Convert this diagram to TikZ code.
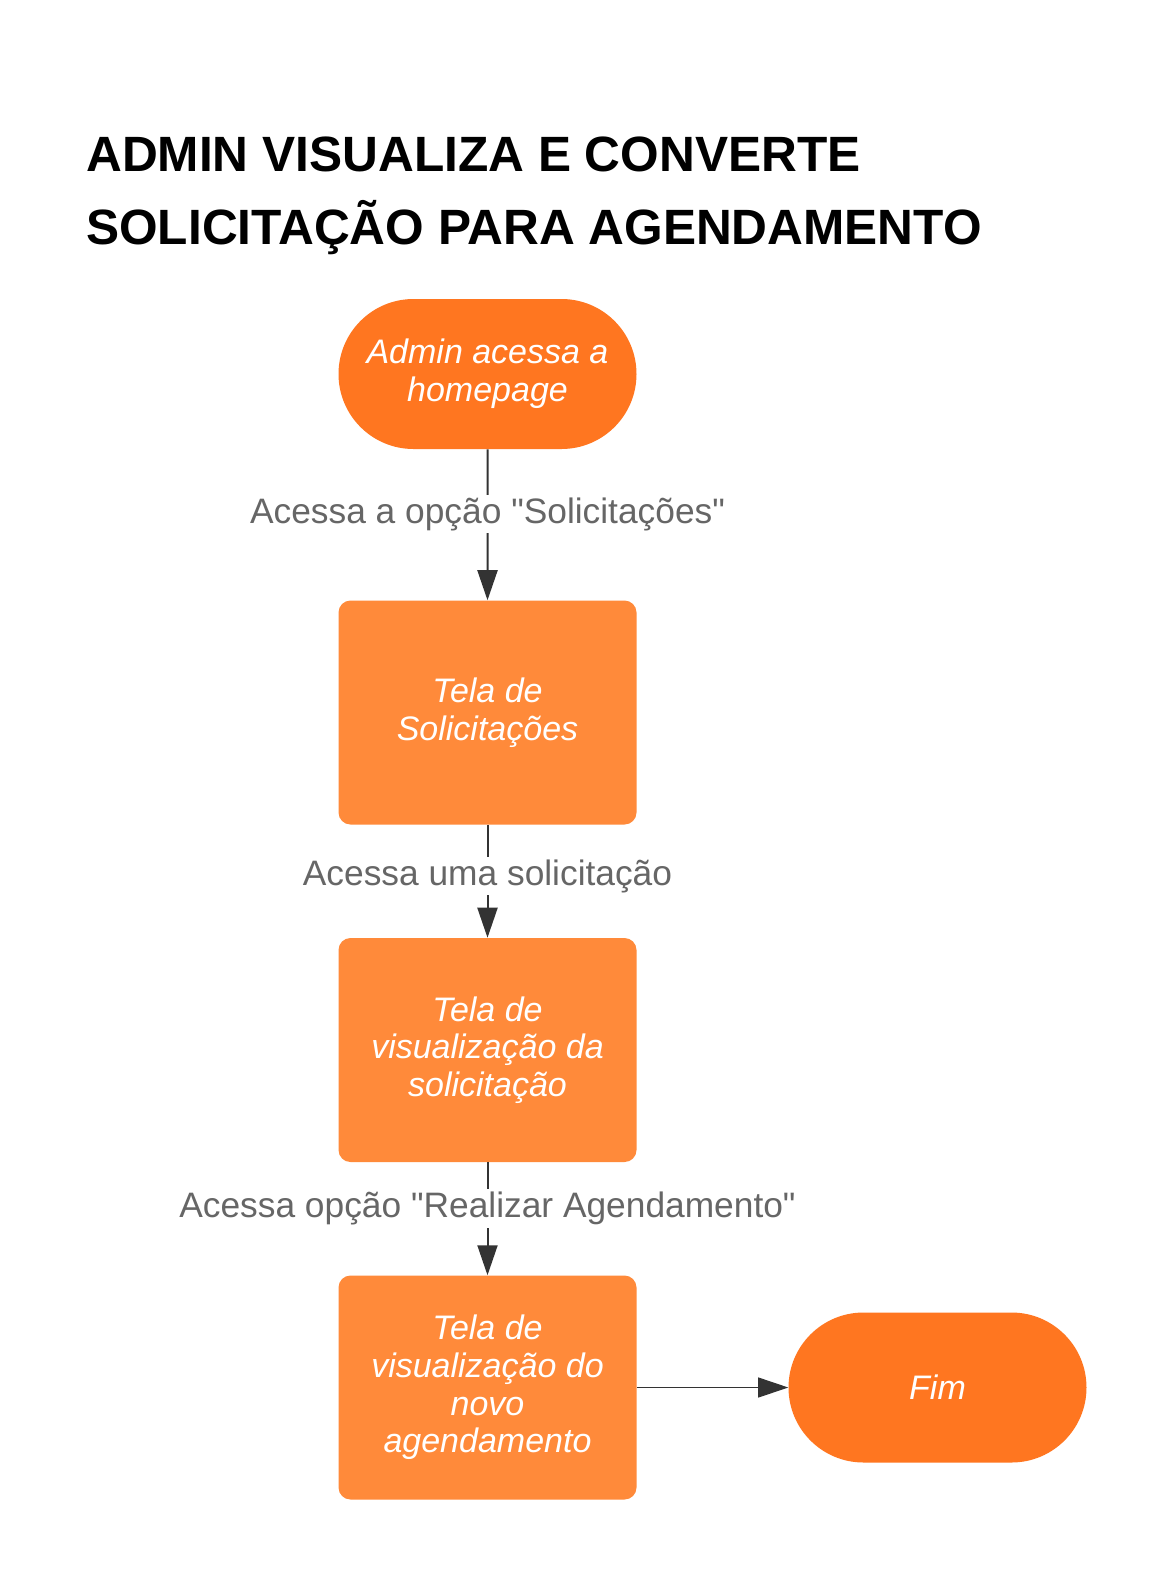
\documentclass[tikz,border=0pt]{standalone}
\usepackage{fontspec}
\setmainfont{Liberation Sans}
\usetikzlibrary{arrows.meta,shapes.misc}
\definecolor{pillc}{HTML}{FF7620}
\definecolor{boxc}{HTML}{FF8A3A}
\definecolor{lblc}{HTML}{666666}
\definecolor{linec}{HTML}{333333}
\tikzset{
  pill/.style={fill=pillc, draw=none, rounded rectangle, minimum width=298*0.75pt, minimum height=150*0.75pt, text=white, align=center, font=\fontsize{25.5}{28.2}\selectfont\itshape, inner sep=0pt},
  box/.style={fill=boxc, draw=none, rounded corners=12*0.75pt, minimum width=298*0.75pt, minimum height=224*0.75pt, text=white, align=center, font=\fontsize{25.5}{28.2}\selectfont\itshape, inner sep=0pt},
  conn/.style={draw=linec, line width=1.5pt, -{Triangle[length=22.5pt, width=15pt]}},
  lbl/.style={fill=white, text=lblc, font=\fontsize{26.5}{30}\selectfont, inner sep=2pt},
  ttl/.style={anchor=base west, font=\fontsize{37.2}{44}\selectfont\bfseries, inner sep=0pt}
}
\begin{document}
\begin{tikzpicture}[x=0.75pt,y=-0.75pt]
\useasboundingbox[fill=white] (0,0) rectangle (1163,1575);
\node[ttl] (t1) at (86,171) {ADMIN VISUALIZA E CONVERTE};
\node[ttl] (t2) at (86,244) {SOLICITAÇÃO PARA AGENDAMENTO};
\node[pill] (start) at (487.5,374) {Admin acessa a\\homepage};
\node[box] (b1) at (487.5,712.5) {Tela de\\Solicitações};
\node[box] (b2) at (487.5,1050) {Tela de\\visualização da\\solicitação};
\node[box] (b3) at (487.5,1387.5) {Tela de\\visualização do\\novo\\agendamento};
\node[pill] (fim) at (937.5,1387.5) {Fim};
\draw[conn] (start) -- node[lbl, pos=0.43] {Acessa a opção \textquotedbl Solicitações\textquotedbl} (b1);
\draw[conn] (b1) -- node[lbl, pos=0.455] {Acessa uma solicitação} (b2);
\draw[conn] (b2) -- node[lbl, pos=0.41] {Acessa opção \textquotedbl Realizar Agendamento\textquotedbl} (b3);
\draw[conn, line width=0.75pt] (b3) -- (fim);
\end{tikzpicture}
\end{document}
